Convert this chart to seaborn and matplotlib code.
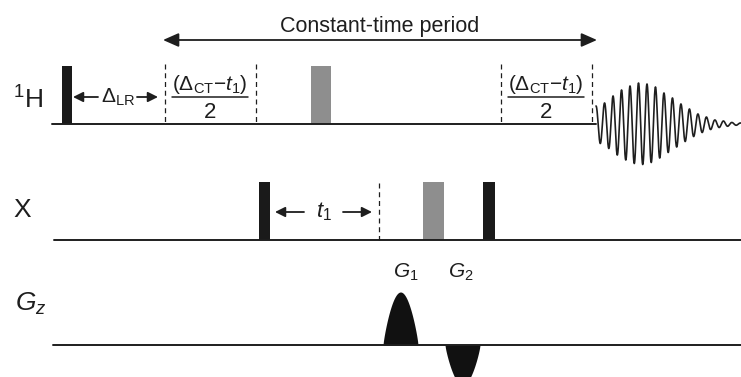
import numpy as np
import matplotlib
matplotlib.use("Agg")
import matplotlib.pyplot as plt
import seaborn as sns
from matplotlib.patches import ArrowStyle

# channel baselines (figure pixel units, y grows downward)
channel_labels = ["$^{1}$H", "X", "$G_z$"]
channel_y = [124, 240, 345]
channel_start = [52, 54, 53]
label_x = [13, 13, 15]
label_base = [109, 217, 311]

# rf pulses: (channel index, start, end, colour)
pulse_channel = [0, 0, 1, 1, 1]
pulse_start = [62, 311, 259, 423, 483]
pulse_end = [72, 331, 270, 444, 495]
pulse_top = [66, 66, 182, 182, 182]
pulse_color = ["#1a1a1a", "#8e8e8e", "#1a1a1a", "#8e8e8e", "#1a1a1a"]

# dashed delay markers
dash_x = [165, 256, 501, 592, 379]
dash_top = [64, 64, 64, 64, 183]
dash_bottom = [124, 124, 124, 124, 240]

# gradient lobes
grad_start = [383, 445]
grad_end = [418, 480]
grad_amp = [53, -40]
grad_names = ["$G_1$", "$G_2$"]
grad_name_x = [393, 448]

# FID peak amplitudes, one per cycle
fid_start = 596
fid_period = 8.5
fid_peaks = [18, 21, 28, 34, 38, 41, 40, 37, 31, 26, 20, 15, 10, 7, 4, 3, 1.5, 1]

sns.set_style("white")
plt.rcParams["font.family"] = ["Liberation Sans", "DejaVu Sans"]
plt.rcParams["mathtext.fontset"] = "custom"
plt.rcParams["mathtext.rm"] = "Liberation Sans"
plt.rcParams["mathtext.it"] = "Liberation Sans:italic"
plt.rcParams["mathtext.bf"] = "Liberation Sans:bold"

fig = plt.figure(figsize=(7.41, 3.77), dpi=100)
ax = fig.add_axes([0, 0, 1, 1])
ax.set_xlim(0, 741)
ax.set_ylim(377, 0)
ax.axis("off")

ink = "#1e1e1e"

# baselines
for i, y in enumerate(channel_y):
    end = fid_start if i == 0 else 741
    sns.lineplot(x=[channel_start[i], end], y=[y, y], ax=ax, color=ink, lw=1.4)
    ax.text(label_x[i], label_base[i], channel_labels[i], fontsize=19,
            ha="left", va="baseline", color=ink)

# pulses
for ch, s, e, top, c in zip(pulse_channel, pulse_start, pulse_end, pulse_top, pulse_color):
    base = channel_y[ch]
    ax.bar(s, top - base, width=e - s, bottom=base, align="edge", color=c, lw=0)

# dashed lines
for x, t, b in zip(dash_x, dash_top, dash_bottom):
    ax.plot([x, x], [t, b], color=ink, lw=0.9, ls=(0, (4, 3)))

# gradient lobes
for s, e, a in zip(grad_start, grad_end, grad_amp):
    gx = np.linspace(s, e, 80)
    gy = channel_y[2] - a * np.sin(np.pi * (gx - s) / (e - s)) ** 0.8
    ax.fill_between(gx, channel_y[2], gy, color="#111111", lw=0)
for name, x in zip(grad_names, grad_name_x):
    ax.text(x, 278, name, fontsize=15, ha="left", va="baseline", color=ink)

# FID
t = np.linspace(0, fid_period * len(fid_peaks), 1500)
env = np.interp(t, fid_period * np.arange(len(fid_peaks)), fid_peaks)
env[-60:] *= np.linspace(1, 0.3, 60)
fy = channel_y[0] - env * np.cos(2 * np.pi * t / fid_period)
sns.lineplot(x=fid_start + t, y=fy, ax=ax, color=ink, lw=1.2, sort=False)

# arrows
def arrow(x0, x1, y, scale, hl=0.5, hw=0.25, style="-|>"):
    ax.annotate("", xy=(x1, y), xytext=(x0, y),
                arrowprops=dict(arrowstyle=ArrowStyle(style, head_length=hl, head_width=hw),
                                mutation_scale=scale, color=ink, lw=1.3,
                                shrinkA=0, shrinkB=0))

arrow(163, 597, 40, 19, hl=0.5, hw=0.22, style="<|-|>")
ax.text(380, 32, "Constant-time period", fontsize=15.5, ha="center", va="baseline", color=ink)

arrow(98, 73, 97, 12)
arrow(137, 158, 97, 12)
ax.text(118, 103, r"$\Delta_{\mathrm{LR}}$", fontsize=15, ha="center", va="baseline", color=ink)

arrow(304, 275, 212, 12)
arrow(343, 372, 212, 12)
ax.text(324, 217, "$t_1$", fontsize=16, ha="center", va="baseline", color=ink)

# (ΔCT - t1)/2 fractions
for cx in [210, 546]:
    ax.text(cx, 90, r"$(\Delta_{\mathrm{CT}}{-}t_1)$", fontsize=15, ha="center",
            va="baseline", color=ink)
    ax.plot([cx - 38, cx + 38], [97, 97], color=ink, lw=1.1)
    ax.text(cx, 118, "2", fontsize=16, ha="center", va="baseline", color=ink)

fig.savefig("out.png", dpi=100)
